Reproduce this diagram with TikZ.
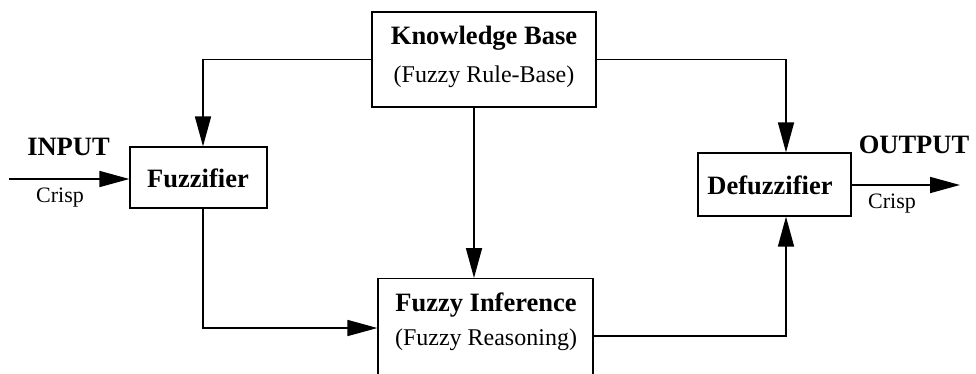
\documentclass[tikz,border=0pt]{standalone}
\usepackage{fontspec}
\setmainfont{Liberation Serif}
\usetikzlibrary{arrows.meta}

\begin{document}
\begin{tikzpicture}[x=1pt, y=-1pt,
        blk/.style = {draw, line width=1.2pt, inner sep=0pt},
        bt/.style = {font=\fontsize{26.5}{30}\selectfont\bfseries, inner sep=0pt, anchor=base},
        rt/.style = {font=\fontsize{24}{28}\selectfont, inner sep=0pt, anchor=base},
        st/.style = {font=\fontsize{22}{26}\selectfont, inner sep=0pt, anchor=base},
        arr/.style = {line width=1.6pt, -{Triangle[length=30pt, width=16pt]}}]
            \useasboundingbox (0,0) rectangle (976,373);

            % blocks
            \node[blk, minimum width=224pt, minimum height=95pt] (kb) at (484,59.5) {};
            \node[bt] (kbname) at (484,44) {Knowledge Base};
            \node[rt] (kbnote) at (484,82) {(Fuzzy Rule-Base)};

            \node[blk, minimum width=137pt, minimum height=61pt] (fz) at (198.5,177.5) {};
            \node[bt] (fzname) at (198,187) {Fuzzifier};

            \node[blk, minimum width=153pt, minimum height=63pt] (dfz) at (774.5,184.5) {};
            \node[bt] (dfzname) at (770,194) {Defuzzifier};

            \node[blk, anchor=north, minimum width=215pt, minimum height=100pt] (inf) at (485.5,278) {};
            \node[bt] (infname) at (486,311) {Fuzzy Inference};
            \node[rt] (infnote) at (486,345) {(Fuzzy Reasoning)};

            % in / out
            \node[bt] (in) at (68.5,155) {INPUT};
            \node[st] (incrisp) at (60,202) {Crisp};
            \node[bt] (out) at (914,153) {OUTPUT};
            \node[st] (outcrisp) at (892,208) {Crisp};
            \coordinate (src) at (9,179);
            \coordinate (dst) at (960,185);

            % connectors
            \draw[arr] (src) -- (src -| fz.west);
            \draw[arr] (kb.west) -| ([xshift=4.5pt]fz.north);
            \draw[arr] ([xshift=-10pt]kb.south) -- ([xshift=-10pt]kb.south |- inf.north);
            \draw[arr] (kb.east) -| ([xshift=11.5pt]dfz.north);
            \draw[arr] ([xshift=4.5pt]fz.south) |- ([yshift=-50pt]inf.north west);
            \draw[arr] ([yshift=-58pt]inf.north east) -| ([xshift=11.5pt]dfz.south);
            \draw[arr] (dst -| dfz.east) -- (dst);

            \end{tikzpicture}
\end{document}
